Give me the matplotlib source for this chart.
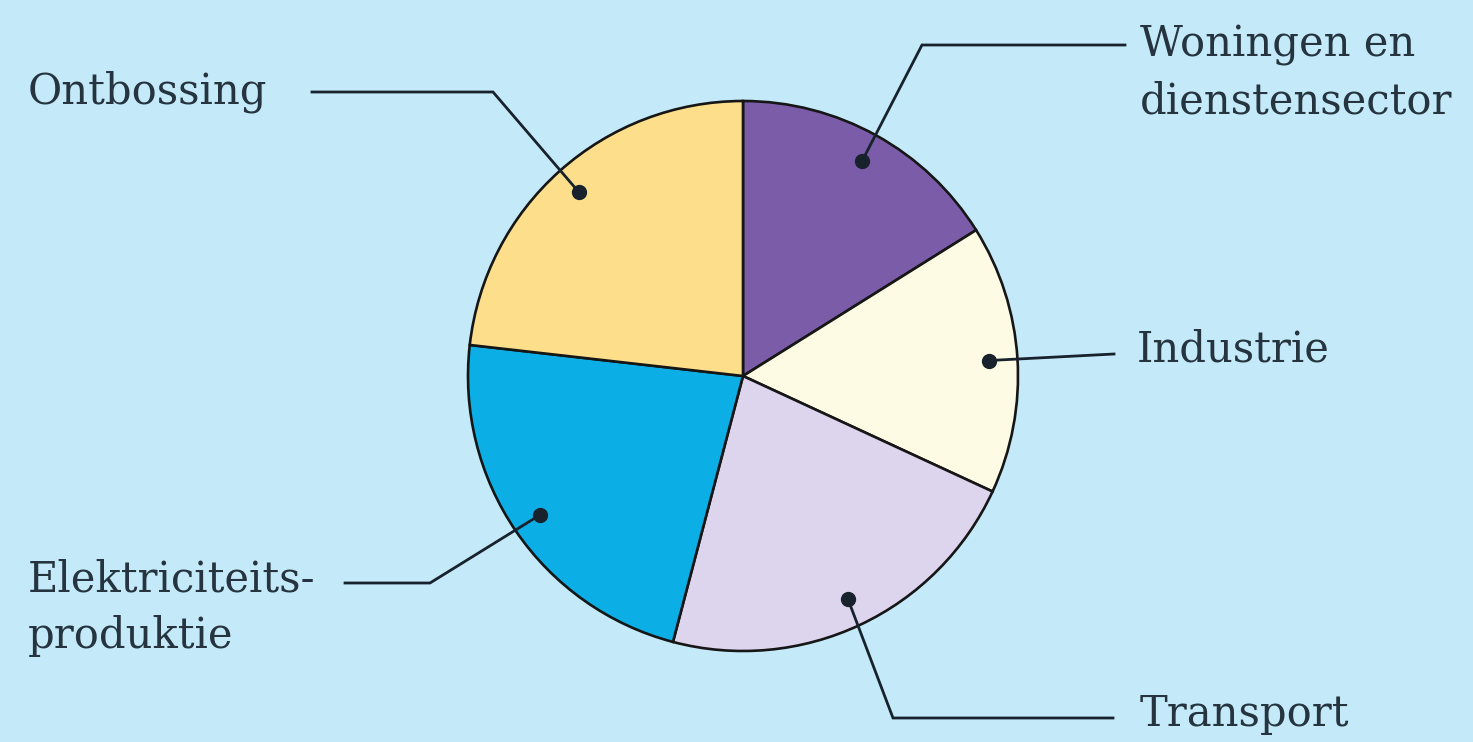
import numpy as np
import matplotlib
matplotlib.use("Agg")
import matplotlib.pyplot as plt

# Emission sources (share of the circle, in percent)
labels = ["Woningen en\ndienstensector", "Industrie", "Transport",
          "Elektriciteits-\nproduktie", "Ontbossing"]
shares = [16.1, 15.8, 22.2, 22.7, 23.2]
colors = ["#7a5ca9", "#fdfbe3", "#ddd4ed", "#0caee6", "#fddf8b"]

W, H = 1473, 742
BG = "#c4eafa"
INK = "#25343f"

fig = plt.figure(figsize=(W / 100, H / 100), dpi=100, facecolor=BG)
ax = fig.add_axes([0, 0, 1, 1])
ax.set_facecolor(BG)

def top(y):
    """Convert a top-down pixel row into the y-up axis coordinate."""
    return H - y

cx, cy, R = 743, top(376), 275
wedges, _ = ax.pie(shares, colors=colors, startangle=90, counterclock=False,
                   center=(cx, cy), radius=R,
                   wedgeprops=dict(edgecolor="#161616", linewidth=1.9))
ax.set_xlim(0, W)
ax.set_ylim(0, H)
ax.set_aspect("equal")
ax.axis("off")

# Label anchors: text left x, text centre rows, line end x, line row, elbow x
layout = [
    dict(tx=1140, ty=[45, 101], lx=1125, ly=45, ex=922),
    dict(tx=1137, ty=[350], lx=1114, ly=354, ex=None),
    dict(tx=1140, ty=[714], lx=1113, ly=718, ex=893),
    dict(tx=28, ty=[580, 636], lx=345, ly=583, ex=430),
    dict(tx=28, ty=[92], lx=312, ly=92, ex=493),
]

fs = 30
for w, lab, lay in zip(wedges, labels, layout):
    mid = np.deg2rad((w.theta1 + w.theta2) / 2)
    dx = cx + 0.895 * R * np.cos(mid)
    dy = cy + 0.895 * R * np.sin(mid)
    xs = [lay["lx"]]
    ys = [top(lay["ly"])]
    if lay["ex"] is not None:
        xs.append(lay["ex"])
        ys.append(top(lay["ly"]))
    xs.append(dx)
    ys.append(dy)
    ax.plot(xs, ys, color="#18222c", lw=2.0, solid_joinstyle="miter", zorder=5)
    ax.plot([dx], [dy], "o", color="#18222c", ms=10, zorder=6)
    for line, yy in zip(lab.split("\n"), lay["ty"]):
        ax.text(lay["tx"], top(yy), line, ha="left", va="center",
                fontsize=fs, family="DejaVu Serif", color=INK)

fig.savefig("out.png", dpi=100, facecolor=BG)
